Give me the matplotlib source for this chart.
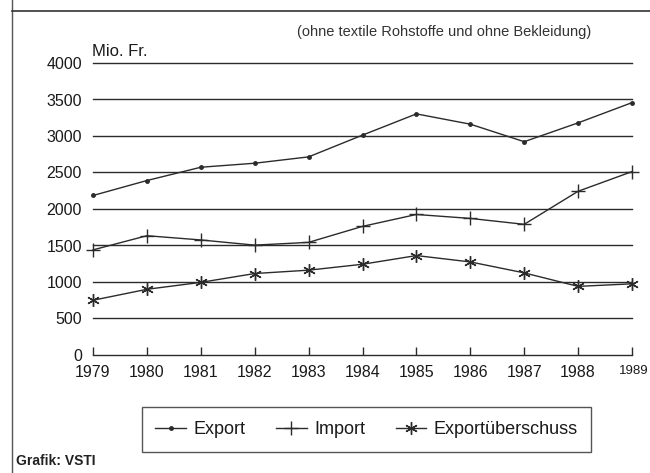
import matplotlib
matplotlib.use('Agg')
import matplotlib.pyplot as plt
from matplotlib.lines import Line2D
import numpy as np

plt.rcParams['font.family'] = ['Liberation Sans', 'DejaVu Sans']

## ====== data ====== ##
years = [1979, 1980, 1981, 1982, 1983, 1984, 1985, 1986, 1987, 1988, 1989]
export = [2185, 2390, 2572, 2627, 2714, 3012, 3303, 3162, 2922, 3180, 3457]
imports = [1440, 1634, 1576, 1505, 1543, 1762, 1925, 1871, 1790, 2243, 2512]
surplus = [750, 900, 995, 1116, 1162, 1243, 1362, 1275, 1125, 940, 975]
yticks = [0, 500, 1000, 1500, 2000, 2500, 3000, 3500, 4000]

ink = '#2b2b2b'

fig = plt.figure(figsize=(6.5, 4.73), dpi=100)
ax = fig.add_axes([93 / 650, 1 - 355 / 473, (632 - 93) / 650, (355 - 63) / 473])

ax.set_xlim(1979, 1989)
ax.set_ylim(0, 4000)

for yv in yticks[1:]:
    ax.axhline(yv, color=ink, lw=1.0, zorder=1, clip_on=False)

ax.plot(years, export, color=ink, lw=1.0, marker='o', markersize=2.5, label='Export', zorder=3,
        clip_on=False)
ax.plot(years, imports, color=ink, lw=1.0, marker='+', markersize=10, markeredgewidth=1.0, label='Import',
        zorder=3, clip_on=False)
ax.plot(years, surplus, color=ink, lw=1.0, marker=(6, 2, 0), markersize=9, markeredgewidth=1.0,
        label='Exportüberschuss', zorder=3, clip_on=False)

for side in ['top', 'right', 'left']:
    ax.spines[side].set_visible(False)
ax.spines['bottom'].set_color(ink)
ax.spines['bottom'].set_linewidth(1.0)

ax.set_xticks(years)
ax.tick_params(axis='x', direction='in', length=6, width=1.0, color=ink, pad=7, labelsize=11.5)
ax.set_yticks(yticks)
ax.set_yticklabels([str(v) for v in yticks])
ax.tick_params(axis='y', length=0, pad=8, labelsize=11.5)

# the last year label is printed smaller and a bit to the right
ax.set_xticklabels([str(y) for y in years[:-1]] + [''])
ax.annotate(str(years[-1]), xy=(years[-1], 0), xytext=(1, -7), textcoords='offset points',
            fontsize=9.5, ha='center', va='top', color='#1a1a1a', annotation_clip=False)
for lab in ax.get_xticklabels() + ax.get_yticklabels():
    lab.set_color('#1a1a1a')

fig.text(92 / 650, 1 - 52 / 473, 'Mio. Fr.', fontsize=12, color='#1a1a1a', va='center', ha='left')
fig.text(297 / 650, 1 - 32 / 473, '(ohne textile Rohstoffe und ohne Bekleidung)', fontsize=10.5,
         color='#333333', va='center', ha='left')
fig.text(16 / 650, 1 - 461 / 473, 'Grafik: VSTI', fontsize=10, fontweight='bold', color='#222222',
         va='center', ha='left')

# frame lines of the page
fig.add_artist(Line2D([12 / 650, 12 / 650], [0, 1], color='#555555', lw=1.0))
fig.add_artist(Line2D([12 / 650, 1], [1 - 11 / 473, 1 - 11 / 473], color='#333333', lw=1.2))

leg = fig.legend(loc='center', bbox_to_anchor=((140 + 593) / 2 / 650, 1 - 429.5 / 473), ncol=3,
                 fontsize=13, frameon=True, fancybox=False, edgecolor=ink, handlelength=1.7,
                 handletextpad=0.4, columnspacing=1.7, borderpad=0.75)
leg.get_frame().set_linewidth(1.0)
for t in leg.get_texts():
    t.set_color('#1a1a1a')

fig.savefig('out.png', dpi=100)
